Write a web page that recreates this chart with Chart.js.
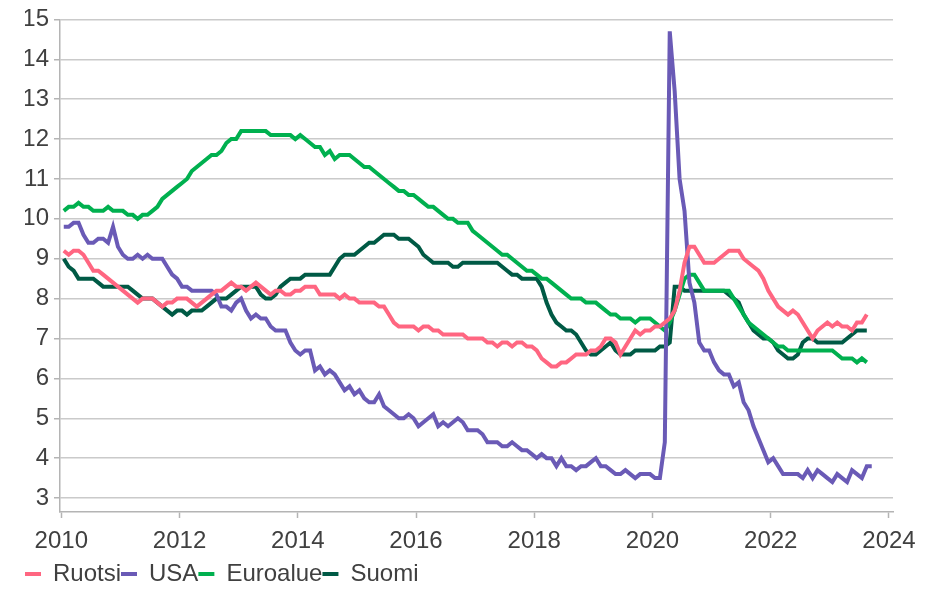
<!DOCTYPE html>
<html>
<head>
<meta charset="utf-8">
<script src="https://cdn.jsdelivr.net/npm/chart.js@4.4.0/dist/chart.umd.min.js"></script>
<style>
  html, body { margin: 0; padding: 0; background: #ffffff; }
  canvas { display: block; }
</style>
</head>
<body>
<canvas id="unemploymentChart" width="934" height="591"></canvas>
<script>
// Monthly series, first value = January 2010
const startYear = 2010;

const ruotsi = [
  9.2, 9.1, 9.2, 9.2, 9.1, 8.9, 8.7, 8.7, 8.6, 8.5, 8.4, 8.3,
  8.2, 8.1, 8.0, 7.9, 8.0, 8.0, 8.0, 7.9, 7.8, 7.9, 7.9, 8.0,
  8.0, 8.0, 7.9, 7.8, 7.9, 8.0, 8.1, 8.2, 8.2, 8.3, 8.4, 8.3,
  8.3, 8.2, 8.3, 8.4, 8.3, 8.2, 8.1, 8.2, 8.2, 8.1, 8.1, 8.2,
  8.2, 8.3, 8.3, 8.3, 8.1, 8.1, 8.1, 8.1, 8.0, 8.1, 8.0, 8.0,
  7.9, 7.9, 7.9, 7.9, 7.8, 7.8, 7.6, 7.4, 7.3, 7.3, 7.3, 7.3,
  7.2, 7.3, 7.3, 7.2, 7.2, 7.1, 7.1, 7.1, 7.1, 7.1, 7.0, 7.0,
  7.0, 7.0, 6.9, 6.9, 6.8, 6.9, 6.9, 6.8, 6.9, 6.9, 6.8, 6.8,
  6.7, 6.5, 6.4, 6.3, 6.3, 6.4, 6.4, 6.5, 6.6, 6.6, 6.6, 6.7,
  6.7, 6.8, 7.0, 7.0, 6.9, 6.6, 6.8, 7.0, 7.2, 7.1, 7.2, 7.2,
  7.3, 7.3, 7.4, 7.5, 7.7, 8.2, 8.9, 9.3, 9.3, 9.1, 8.9, 8.9,
  8.9, 9.0, 9.1, 9.2, 9.2, 9.2, 9.0, 8.9, 8.8, 8.7, 8.5, 8.2,
  8.0, 7.8, 7.7, 7.6, 7.7, 7.6, 7.4, 7.2, 7.0, 7.2, 7.3, 7.4,
  7.3, 7.4, 7.3, 7.3, 7.2, 7.4, 7.4, 7.6
];

const usa = [
  9.8, 9.8, 9.9, 9.9, 9.6, 9.4, 9.4, 9.5, 9.5, 9.4, 9.8, 9.3,
  9.1, 9.0, 9.0, 9.1, 9.0, 9.1, 9.0, 9.0, 9.0, 8.8, 8.6, 8.5,
  8.3, 8.3, 8.2, 8.2, 8.2, 8.2, 8.2, 8.1, 7.8, 7.8, 7.7, 7.9,
  8.0, 7.7, 7.5, 7.6, 7.5, 7.5, 7.3, 7.2, 7.2, 7.2, 6.9, 6.7,
  6.6, 6.7, 6.7, 6.2, 6.3, 6.1, 6.2, 6.1, 5.9, 5.7, 5.8, 5.6,
  5.7, 5.5, 5.4, 5.4, 5.6, 5.3, 5.2, 5.1, 5.0, 5.0, 5.1, 5.0,
  4.8, 4.9, 5.0, 5.1, 4.8, 4.9, 4.8, 4.9, 5.0, 4.9, 4.7, 4.7,
  4.7, 4.6, 4.4, 4.4, 4.4, 4.3, 4.3, 4.4, 4.3, 4.2, 4.2, 4.1,
  4.0, 4.1, 4.0, 4.0, 3.8, 4.0, 3.8, 3.8, 3.7, 3.8, 3.8, 3.9,
  4.0, 3.8, 3.8, 3.7, 3.6, 3.6, 3.7, 3.6, 3.5, 3.6, 3.6, 3.6,
  3.5, 3.5, 4.4, 14.7, 13.2, 11.0, 10.2, 8.4, 7.9, 6.9, 6.7, 6.7,
  6.4, 6.2, 6.1, 6.1, 5.8, 5.9, 5.4, 5.2, 4.8, 4.5, 4.2, 3.9,
  4.0, 3.8, 3.6, 3.6, 3.6, 3.6, 3.5, 3.7, 3.5, 3.7, 3.6, 3.5,
  3.4, 3.6, 3.5, 3.4, 3.7, 3.6, 3.5, 3.8, 3.8
];

const euroalue = [
  10.2, 10.3, 10.3, 10.4, 10.3, 10.3, 10.2, 10.2, 10.2, 10.3, 10.2, 10.2,
  10.2, 10.1, 10.1, 10.0, 10.1, 10.1, 10.2, 10.3, 10.5, 10.6, 10.7, 10.8,
  10.9, 11.0, 11.2, 11.3, 11.4, 11.5, 11.6, 11.6, 11.7, 11.9, 12.0, 12.0,
  12.2, 12.2, 12.2, 12.2, 12.2, 12.2, 12.1, 12.1, 12.1, 12.1, 12.1, 12.0,
  12.1, 12.0, 11.9, 11.8, 11.8, 11.6, 11.7, 11.5, 11.6, 11.6, 11.6, 11.5,
  11.4, 11.3, 11.3, 11.2, 11.1, 11.0, 10.9, 10.8, 10.7, 10.7, 10.6, 10.6,
  10.5, 10.4, 10.3, 10.3, 10.2, 10.1, 10.0, 10.0, 9.9, 9.9, 9.9, 9.7,
  9.6, 9.5, 9.4, 9.3, 9.2, 9.1, 9.1, 9.0, 8.9, 8.8, 8.7, 8.7,
  8.6, 8.5, 8.5, 8.4, 8.3, 8.2, 8.1, 8.0, 8.0, 8.0, 7.9, 7.9,
  7.9, 7.8, 7.7, 7.6, 7.6, 7.5, 7.5, 7.5, 7.4, 7.5, 7.5, 7.5,
  7.4, 7.3, 7.2, 7.4, 7.7, 8.1, 8.5, 8.6, 8.6, 8.4, 8.2, 8.2,
  8.2, 8.2, 8.2, 8.2, 8.0, 7.8, 7.6, 7.4, 7.3, 7.2, 7.1, 7.0,
  6.9, 6.8, 6.8, 6.7, 6.7, 6.7, 6.7, 6.7, 6.7, 6.7, 6.7, 6.7,
  6.7, 6.6, 6.5, 6.5, 6.5, 6.4, 6.5, 6.4
];

const suomi = [
  9.0, 8.8, 8.7, 8.5, 8.5, 8.5, 8.5, 8.4, 8.3, 8.3, 8.3, 8.3,
  8.3, 8.3, 8.2, 8.1, 8.0, 8.0, 8.0, 7.9, 7.8, 7.7, 7.6, 7.7,
  7.7, 7.6, 7.7, 7.7, 7.7, 7.8, 7.9, 8.0, 8.0, 8.0, 8.1, 8.2,
  8.3, 8.3, 8.3, 8.3, 8.1, 8.0, 8.0, 8.1, 8.3, 8.4, 8.5, 8.5,
  8.5, 8.6, 8.6, 8.6, 8.6, 8.6, 8.6, 8.8, 9.0, 9.1, 9.1, 9.1,
  9.2, 9.3, 9.4, 9.4, 9.5, 9.6, 9.6, 9.6, 9.5, 9.5, 9.5, 9.4,
  9.3, 9.1, 9.0, 8.9, 8.9, 8.9, 8.9, 8.8, 8.8, 8.9, 8.9, 8.9,
  8.9, 8.9, 8.9, 8.9, 8.9, 8.8, 8.7, 8.6, 8.6, 8.5, 8.5, 8.5,
  8.5, 8.3, 7.9, 7.6, 7.4, 7.3, 7.2, 7.2, 7.1, 6.9, 6.7, 6.6,
  6.6, 6.7, 6.8, 6.9, 6.7, 6.6, 6.6, 6.6, 6.7, 6.7, 6.7, 6.7,
  6.7, 6.8, 6.8, 6.9, 8.3, 8.3, 8.2, 8.2, 8.2, 8.2, 8.2, 8.2,
  8.2, 8.2, 8.2, 8.1, 8.0, 7.9, 7.6, 7.4, 7.2, 7.1, 7.0, 7.0,
  6.9, 6.7, 6.6, 6.5, 6.5, 6.6, 6.9, 7.0, 7.0, 6.9, 6.9, 6.9,
  6.9, 6.9, 6.9, 7.0, 7.1, 7.2, 7.2, 7.2
];

const xTicks = [2010, 2012, 2014, 2016, 2018, 2020, 2022, 2024];
const yTicks = [3, 4, 5, 6, 7, 8, 9, 10, 11, 12, 13, 14, 15];

// month i -> mid-month position in decimal years
function toPoints(values) {
  return values.map((v, i) => ({ x: startYear + (i + 0.5) / 12, y: v }));
}

const textColor = '#404040';
const gridColor = '#cacaca';
const axisColor = '#b4b4b4';

Chart.defaults.font.family = '"Liberation Sans", Arial, sans-serif';
Chart.defaults.font.size = 24;
Chart.defaults.color = textColor;

const ctx = document.getElementById('unemploymentChart').getContext('2d');

const unemploymentChart = new Chart(ctx, {
  type: 'line',
  data: {
    datasets: [
      { label: 'Ruotsi', data: toPoints(ruotsi), borderColor: '#ff6681', backgroundColor: '#ff6681' },
      { label: 'USA', data: toPoints(usa), borderColor: '#6a5ab6', backgroundColor: '#6a5ab6' },
      { label: 'Euroalue', data: toPoints(euroalue), borderColor: '#00b04f', backgroundColor: '#00b04f' },
      { label: 'Suomi', data: toPoints(suomi), borderColor: '#005a45', backgroundColor: '#005a45' }
    ]
  },
  options: {
    responsive: false,
    animation: false,
    devicePixelRatio: 1,
    layout: { padding: { left: 25, right: 41, top: 12, bottom: -5 } },
    elements: {
      point: { radius: 0 },
      line: { borderWidth: 4, tension: 0, fill: false }
    },
    scales: {
      x: {
        type: 'linear',
        min: 2009.978,
        max: 2024.068,
        afterBuildTicks: s => { s.ticks = xTicks.map(v => ({ value: v })); },
        afterFit: s => { s.height = 50; },
        grid: { drawOnChartArea: false, drawTicks: true, tickLength: 6, tickColor: axisColor, tickWidth: 1.5 },
        border: { color: axisColor, width: 1.5 },
        ticks: { padding: 9, maxRotation: 0, autoSkip: false, callback: v => String(v) }
      },
      y: {
        type: 'linear',
        min: 2.65,
        max: 15,
        afterBuildTicks: s => { s.ticks = yTicks.map(v => ({ value: v })); },
        afterFit: s => { s.width = 35; },
        grid: { color: gridColor, lineWidth: 1.5, tickLength: 6, tickColor: axisColor },
        border: { color: axisColor, width: 1.5 },
        ticks: { padding: 5, callback: v => String(v) }
      }
    },
    plugins: {
      legend: {
        position: 'bottom',
        align: 'start',
        labels: {
          boxWidth: 16,
          boxHeight: 4,
          padding: 0,
          generateLabels: chart => Chart.defaults.plugins.legend.labels.generateLabels(chart)
            .map(l => Object.assign(l, { lineWidth: 0, fillStyle: l.strokeStyle }))
        }
      },
      tooltip: { enabled: false }
    }
  }
});
</script>
</body>
</html>
